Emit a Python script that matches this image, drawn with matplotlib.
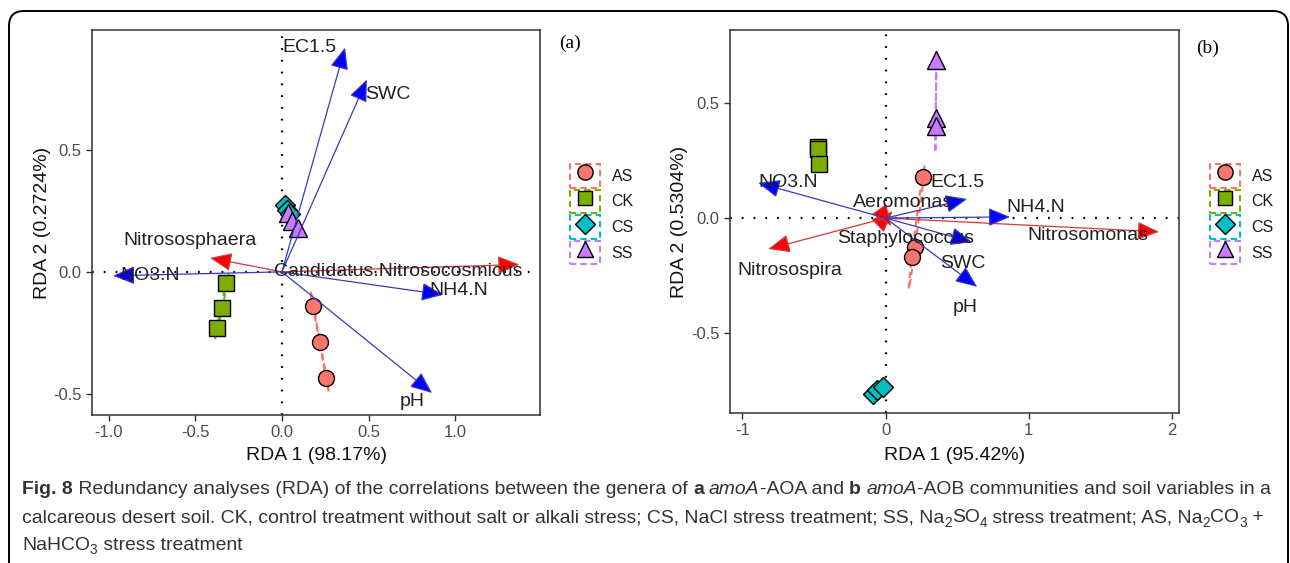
import numpy as np
import matplotlib
matplotlib.use("Agg")
import matplotlib.pyplot as plt
from matplotlib.patches import Rectangle, FancyBboxPatch
from matplotlib.lines import Line2D
from matplotlib.legend_handler import HandlerTuple
from matplotlib import font_manager

plt.rcParams['font.family'] = ['Liberation Sans', 'DejaVu Sans']
plt.rcParams['axes.unicode_minus'] = False

groups = ["AS", "CK", "CS", "SS"]
group_colors = {"AS": "#F8766D", "CK": "#7CAE00", "CS": "#00BFC4", "SS": "#C77CFF"}
group_markers = {"AS": "o", "CK": "s", "CS": "D", "SS": "^"}
group_msize = {"AS": 11.5, "CK": 11, "CS": 10.5, "SS": 12.5}

# ---- panel (a): amoA-AOA ----
a_site_x = {"AS": [0.18, 0.22, 0.255], "CK": [-0.32, -0.345, -0.375],
            "CS": [0.015, 0.03, 0.045], "SS": [0.035, 0.06, 0.09]}
a_site_y = {"AS": [-0.14, -0.287, -0.434], "CK": [-0.045, -0.148, -0.23],
            "CS": [0.275, 0.255, 0.235], "SS": [0.24, 0.21, 0.18]}
a_env = ["EC1.5", "SWC", "NH4.N", "pH", "NO3.N"]
a_env_x = [0.364, 0.49, 0.93, 0.866, -0.975]
a_env_y = [0.918, 0.787, -0.094, -0.496, -0.016]
a_env_lab_x = [0.16, 0.61, 1.02, 0.75, -0.76]
a_env_lab_y = [0.918, 0.725, -0.075, -0.53, -0.016]
a_spe = ["Nitrososphaera", "Candidatus.Nitrosocosmicus"]
a_spe_x = [-0.415, 1.37]
a_spe_y = [0.057, 0.03]
a_spe_lab_x = [-0.53, 0.67]
a_spe_lab_y = [0.127, 0.0]

# ---- panel (b): amoA-AOB ----
b_site_x = {"AS": [0.26, 0.205, 0.185], "CK": [-0.47, -0.47, -0.465],
            "CS": [-0.09, -0.06, -0.02], "SS": [0.355, 0.35, 0.35]}
b_site_y = {"AS": [0.18, -0.127, -0.17], "CK": [0.31, 0.30, 0.235],
            "CS": [-0.765, -0.75, -0.735], "SS": [0.69, 0.437, 0.40]}
b_env = ["NO3.N", "EC1.5", "NH4.N", "SWC", "pH"]
b_env_x = [-0.89, 0.57, 0.87, 0.605, 0.64]
b_env_y = [0.153, 0.083, 0.005, -0.105, -0.30]
b_env_lab_x = [-0.68, 0.50, 1.05, 0.54, 0.556]
b_env_lab_y = [0.153, 0.153, 0.044, -0.197, -0.39]
b_spe = ["Aeromonas", "Staphylococcus", "Nitrosospira", "Nitrosomonas"]
b_spe_x = [0.05, 0.04, -0.82, 1.91]
b_spe_y = [0.03, -0.035, -0.135, -0.06]
b_spe_lab_x = [0.12, 0.14, -0.67, 1.41]
b_spe_lab_y = [0.07, -0.087, -0.227, -0.074]

W, H = 1290, 563
fig = plt.figure(figsize=(W / 100, H / 100), dpi=100)


def px_axes(l, t, r, b):
    return fig.add_axes([l / W, 1 - b / H, (r - l) / W, (b - t) / H])


def arrow(ax, x, y, head, line):
    ax.annotate('', xy=(x, y), xytext=(0, 0), zorder=4,
                arrowprops=dict(arrowstyle='-|>,head_length=1.0,head_width=0.42',
                                mutation_scale=13.5, fc=head, ec=line, lw=0.9,
                                shrinkA=0, shrinkB=0))


def rda_panel(ax, sx, sy, env, ex, ey, elx, ely, spe, spx, spy, slx, sly):
    ax.axhline(0, color='black', lw=1.6, ls=(0, (0.8, 4.5)), zorder=1)
    ax.axvline(0, color='black', lw=1.6, ls=(0, (0.8, 4.5)), zorder=1)
    t = np.linspace(0, 2 * np.pi, 200)
    for g in groups:
        x = np.array(sx[g]); y = np.array(sy[g])
        cov = np.cov(x, y)
        w, v = np.linalg.eigh(cov)
        w = np.clip(w, 0, None)
        circ = np.vstack([np.cos(t), np.sin(t)])
        pts = v @ (np.sqrt(2 * w)[:, None] * circ)
        ax.plot(x.mean() + pts[0], y.mean() + pts[1], color=group_colors[g],
                lw=1.5, ls=(0, (3, 2)), zorder=2)
        ax.plot(x, y, ls='none', marker=group_markers[g], ms=group_msize[g],
                mfc=group_colors[g], mec='black', mew=1, zorder=3)
    for i, name in enumerate(spe):
        arrow(ax, spx[i], spy[i], 'red', '#d03a3a')
        ax.text(slx[i], sly[i], name, fontsize=14, color='#222222',
                ha='center', va='center', zorder=5)
    for i, name in enumerate(env):
        arrow(ax, ex[i], ey[i], 'blue', '#3a3ab8')
        ax.text(elx[i], ely[i], name, fontsize=14, color='#222222',
                ha='center', va='center', zorder=5)
    for s in ax.spines.values():
        s.set_color('#333333')
        s.set_linewidth(1.1)
    ax.tick_params(colors='#333333', labelcolor='#4d4d4d', labelsize=12,
                   length=4, width=1)


ax_a = px_axes(92, 30, 540, 415)
rda_panel(ax_a, a_site_x, a_site_y, a_env, a_env_x, a_env_y, a_env_lab_x, a_env_lab_y,
          a_spe, a_spe_x, a_spe_y, a_spe_lab_x, a_spe_lab_y)
ax_a.set_xlim(-1.096, 1.489)
ax_a.set_ylim(-0.586, 0.99)
ax_a.set_xticks([-1.0, -0.5, 0.0, 0.5, 1.0])
ax_a.set_xticklabels(["-1.0", "-0.5", "0.0", "0.5", "1.0"])
ax_a.set_yticks([-0.5, 0.0, 0.5])
ax_a.set_yticklabels(["-0.5", "0.0", "0.5"])
ax_a.set_xlabel("RDA 1 (98.17%)", fontsize=14, color='#111111')
ax_a.set_ylabel("RDA 2 (0.2724%)", fontsize=14, color='#111111')
ax_a.xaxis.set_label_coords(0.5, -0.082)
ax_a.yaxis.set_label_coords(-0.092, 0.5)

ax_b = px_axes(730, 30, 1179, 413)
rda_panel(ax_b, b_site_x, b_site_y, b_env, b_env_x, b_env_y, b_env_lab_x, b_env_lab_y,
          b_spe, b_spe_x, b_spe_y, b_spe_lab_x, b_spe_lab_y)
ax_b.set_xlim(-1.087, 2.05)
ax_b.set_ylim(-0.85, 0.82)
ax_b.set_xticks([-1, 0, 1, 2])
ax_b.set_yticks([-0.5, 0.0, 0.5])
ax_b.set_yticklabels(["-0.5", "0.0", "0.5"])
ax_b.set_xlabel("RDA 1 (95.42%)", fontsize=14, color='#111111')
ax_b.set_ylabel("RDA 2 (0.5304%)", fontsize=14, color='#111111')
ax_b.xaxis.set_label_coords(0.5, -0.088)
ax_b.yaxis.set_label_coords(-0.094, 0.5)

# panel tags
fig.text(570 / W, 1 - 43 / H, "(a)", family='Liberation Serif', fontsize=14,
         ha='center', va='center')
fig.text(1208 / W, 1 - 48 / H, "(b)", family='Liberation Serif', fontsize=14,
         ha='center', va='center')

# legends
for left in (570, 1210):
    handles = []
    for g in groups:
        box = Rectangle((0, 0), 1, 1, fill=False, ec=group_colors[g], lw=1.5, ls=(0, (3, 2)))
        mk = Line2D([], [], ls='none', marker=group_markers[g], ms=group_msize[g] - 0.5,
                    mfc=group_colors[g], mec='black', mew=1)
        handles.append((box, mk))
    fig.legend(handles, groups, handler_map={tuple: HandlerTuple(ndivide=1, pad=0)},
               loc='upper left', bbox_to_anchor=(left / W, 1 - 164 / H),
               frameon=False, fontsize=11.5, handlelength=1.9, handleheight=1.9,
               labelspacing=0.12, handletextpad=0.7, borderpad=0, borderaxespad=0,
               labelcolor='#1a1a1a')

# rounded outer frame
fig.patches.append(FancyBboxPatch((0.09, -0.3), 12.79, 5.82,
                                  boxstyle='round,pad=0,rounding_size=0.15',
                                  transform=fig.dpi_scale_trans, fill=False,
                                  ec='black', lw=1.4))

# caption
names = {f.name for f in font_manager.fontManager.ttflist}
cap_font = 'Liberation Sans Narrow' if 'Liberation Sans Narrow' in names else 'Liberation Sans'
caption = [
    [("Fig. 8", 'bold', 'normal'), (" Redundancy analyses (RDA) of the correlations between the genera of ", 'normal', 'normal'),
     ("a", 'bold', 'normal'), (" ", 'normal', 'normal'), ("amoA", 'normal', 'italic'),
     ("-AOA and ", 'normal', 'normal'), ("b", 'bold', 'normal'), (" ", 'normal', 'normal'),
     ("amoA", 'normal', 'italic'), ("-AOB communities and soil variables in a", 'normal', 'normal')],
    [("calcareous desert soil. CK, control treatment without salt or alkali stress; CS, NaCl stress treatment; SS, Na", 'normal', 'normal'),
     ("2", 'sub', 'normal'), ("SO", 'normal', 'normal'), ("4", 'sub', 'normal'),
     (" stress treatment; AS, Na", 'normal', 'normal'), ("2", 'sub', 'normal'), ("CO", 'normal', 'normal'),
     ("3", 'sub', 'normal'), (" +", 'normal', 'normal')],
    [("NaHCO", 'normal', 'normal'), ("3", 'sub', 'normal'), (" stress treatment", 'normal', 'normal')],
]
renderer = fig.canvas.get_renderer()


def draw_line(pieces, x0, yc, size):
    x = x0
    for txt, kind, style in pieces:
        weight = 'bold' if kind == 'bold' else 'normal'
        fs = size * 0.7 if kind == 'sub' else size
        dy = -5 if kind == 'sub' else 0
        t = fig.text(x / W, 1 - (yc - dy) / H, txt, family=cap_font, fontsize=fs,
                     weight=weight, style=style, ha='left', va='center', color='#333333')
        x += t.get_window_extent(renderer).width
    return x - x0


# fit first caption line to the reference width
probe = fig.text(0, 0, "".join(p[0] for p in caption[0]), family=cap_font, fontsize=12)
cap_size = 12 * 1246 / probe.get_window_extent(renderer).width
probe.remove()
for line, yc in zip(caption, [489, 518, 545]):
    draw_line(line, 22, yc, cap_size)

fig.savefig("out.png", dpi=100)
